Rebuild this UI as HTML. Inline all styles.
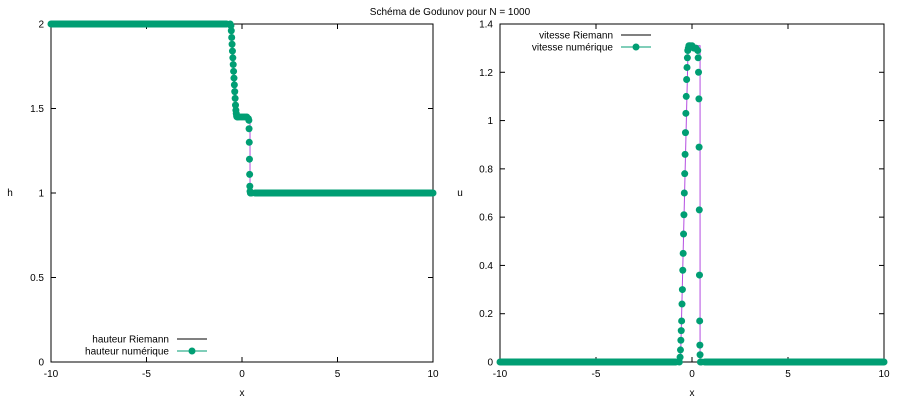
<!DOCTYPE html>
<html><head><meta charset="utf-8"><style>
body{margin:0;background:#fff}
svg{display:block;font-family:"Liberation Sans","DejaVu Sans",sans-serif;font-size:10px}
</style></head><body>
<svg id="c" width="900" height="400" xmlns="http://www.w3.org/2000/svg">
<text x="450" y="15" text-anchor="middle">Schéma de Godunov pour N = 1000</text>
</svg>
<script>
const xTicks=[-10,-5,0,5,10];
const hTicks=[0,0.5,1,1.5,2];
const uTicks=[0,0.2,0.4,0.6,0.8,1,1.2,1.4];
// numerical height data (transition region)
const hX=[-0.62,-0.58,-0.56,-0.54,-0.52,-0.5,-0.48,-0.46,-0.44,-0.42,-0.4,-0.38,-0.36,-0.34,-0.32,-0.3,-0.28,-0.26,-0.22,-0.15,-0.05,0.05,0.15,0.25,0.33,0.36,0.37,0.38,0.39,0.4,0.41,0.42,0.44,0.46,0.5];
const hV=[2,1.99,1.96,1.92,1.88,1.84,1.8,1.76,1.72,1.68,1.64,1.6,1.56,1.52,1.49,1.47,1.455,1.45,1.45,1.45,1.45,1.45,1.45,1.45,1.44,1.43,1.38,1.3,1.2,1.11,1.04,1.01,1,1,1];
// exact Riemann height
const hExX=[-10,-0.6,-0.25,0.42,0.42,10];
const hExV=[2,2,1.45,1.45,1,1];
// numerical velocity data
const uX=[-0.66,-0.62,-0.6,-0.58,-0.56,-0.54,-0.52,-0.5,-0.48,-0.46,-0.44,-0.42,-0.4,-0.38,-0.36,-0.34,-0.32,-0.3,-0.28,-0.26,-0.24,-0.22,-0.19,-0.16,-0.1,0,0.1,0.2,0.3,0.32,0.34,0.36,0.37,0.38,0.39,0.4,0.41,0.42,0.44,0.48];
const uV=[0,0.02,0.05,0.09,0.13,0.17,0.24,0.3,0.38,0.45,0.53,0.61,0.7,0.78,0.86,0.95,1.03,1.1,1.17,1.22,1.26,1.29,1.3,1.31,1.31,1.31,1.3,1.3,1.29,1.26,1.2,1.09,0.89,0.63,0.36,0.17,0.07,0.03,0,0];
const uExX=[-10,-0.6,-0.2,0.42,0.42,10];
const uExV=[0,0,1.31,1.31,0,0];
const xMin=-10,xMax=10;
const svg=document.getElementById('c');
const NS='http://www.w3.org/2000/svg';
function mk(tag,attrs,parent){const e=document.createElementNS(NS,tag);for(const k in attrs)e.setAttribute(k,attrs[k]);(parent||svg).appendChild(e);return e;}
function panel(p){
  const g=mk('g',{});
  
  
  const sx=v=>p.x0+(v-xMin)/(xMax-xMin)*(p.x1-p.x0);
  const sy=v=>p.y0-(v-p.ymin)/(p.ymax-p.ymin)*(p.y0-p.y1);
  const fr=mk('rect',{x:p.x0,y:p.y1,width:p.x1-p.x0,height:p.y0-p.y1,fill:'none',stroke:'#000','stroke-width':1},g);
  
  
  xTicks.forEach(t=>{const X=sx(t);
    mk('line',{x1:X,x2:X,y1:p.y0,y2:p.y0-5,stroke:'#000'},g);
    mk('line',{x1:X,x2:X,y1:p.y1,y2:p.y1+5,stroke:'#000'},g);
    const tx=mk('text',{x:X,y:p.y0+15,'text-anchor':'middle'},g);tx.textContent=t;
    
    });
  p.ticks.forEach(t=>{const Y=sy(t);
    mk('line',{x1:p.x0,x2:p.x0+5,y1:Y,y2:Y,stroke:'#000'},g);
    mk('line',{x1:p.x1,x2:p.x1-5,y1:Y,y2:Y,stroke:'#000'},g);
    const tx=mk('text',{x:p.x0-7,y:Y+3.5,'text-anchor':'end'},g);tx.textContent=t;
    
    });
  const xl=mk('text',{x:(p.x0+p.x1)/2,y:396,'text-anchor':'middle'},g);xl.textContent='x';
  
  
  const yl=mk('text',{x:p.ylx,y:(p.y0+p.y1)/2+3,'text-anchor':'middle'},g);yl.textContent=p.ylabel;
  
  
  const ex=mk('polyline',{points:p.ex.map((v,i)=>sx(v)+','+sy(p.ev[i])).join(' '),fill:'none',stroke:'#9400d3','stroke-width':1,opacity:0.7},g);
  
  
  const gm=mk('g',{fill:'#009e73'},g);
  
  
  const lft=p.nx[0],rgt=p.nx[p.nx.length-1];
  mk('rect',{x:sx(xMin)-3.5,y:sy(p.nv[0])-3.5,width:sx(lft)-sx(xMin)+3.5,height:7,rx:3.5},gm);
  mk('rect',{x:sx(rgt),y:sy(p.nv[p.nv.length-1])-3.5,width:sx(xMax)-sx(rgt)+3.5,height:7,rx:3.5},gm);
  p.nx.forEach((v,i)=>{const c=mk('circle',{cx:sx(v),cy:sy(p.nv[i]),r:3.5},gm);
    
    });
  const lg=mk('g',{},g);
  
  
  const t1=mk('text',{x:p.lx-8,y:p.ly+3.5,'text-anchor':'end'},lg);t1.textContent=p.l1;
  mk('line',{x1:p.lx,x2:p.lx+30,y1:p.ly,y2:p.ly,stroke:'#000'},lg);
  const t2=mk('text',{x:p.lx-8,y:p.ly+15.5,'text-anchor':'end'},lg);t2.textContent=p.l2;
  mk('line',{x1:p.lx,x2:p.lx+30,y1:p.ly+12,y2:p.ly+12,stroke:'#009e73'},lg);
  mk('circle',{cx:p.lx+15,cy:p.ly+12,r:3.5,fill:'#009e73'},lg);
}
panel({name:'height-panel',x0:51,x1:433,y0:362,y1:24,ymin:0,ymax:2,ticks:hTicks,ylabel:'h',ylx:10,
  nx:hX,nv:hV,ex:hExX,ev:hExV,lx:177,ly:339,l1:'hauteur Riemann',l2:'hauteur numérique'});
panel({name:'velocity-panel',x0:500,x1:884,y0:362,y1:24,ymin:0,ymax:1.4,ticks:uTicks,ylabel:'u',ylx:460,
  nx:uX,nv:uV,ex:uExX,ev:uExV,lx:621,ly:35,l1:'vitesse Riemann',l2:'vitesse numérique'});
</script>
</body></html>
